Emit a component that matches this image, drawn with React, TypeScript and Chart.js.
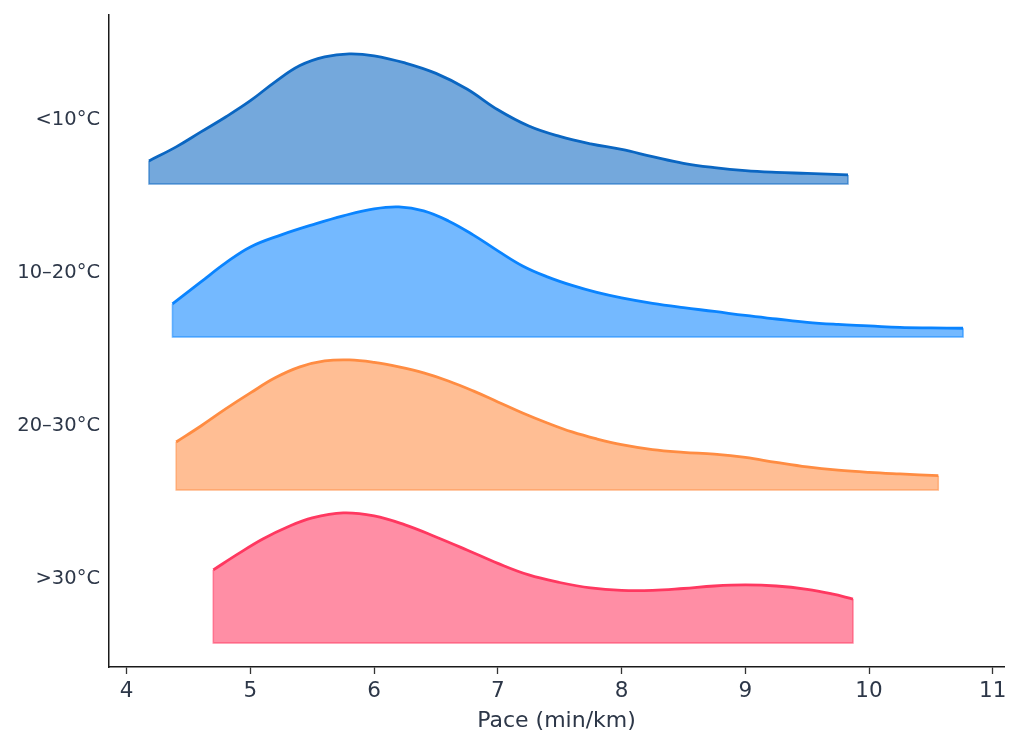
import React, { useEffect, useRef } from 'react';
import { Chart, registerables } from 'chart.js';

Chart.register(...registerables);

// temperature bands, top to bottom
const bands = ['<10°C', '10–20°C', '20–30°C', '>30°C'];
const lineColors = ['#0a66c2', '#0a84ff', '#ff8c42', '#ff3860'];

// pace (min/km) and density, each curve scaled to its own peak
const paceCold = [4.18, 4.4, 4.6, 4.8, 5.0, 5.2, 5.4, 5.6, 5.8, 6.0, 6.25, 6.5, 6.75, 7.0, 7.25, 7.5, 7.75, 8.0, 8.25, 8.5, 8.75, 9.0, 9.25, 9.5, 9.83];
const densCold = [0.177, 0.285, 0.4, 0.515, 0.64, 0.785, 0.91, 0.977, 1.0, 0.985, 0.93, 0.85, 0.73, 0.57, 0.445, 0.365, 0.308, 0.265, 0.21, 0.158, 0.125, 0.102, 0.089, 0.081, 0.069];

const paceMild = [4.37, 4.6, 4.8, 5.0, 5.25, 5.5, 5.75, 6.0, 6.2, 6.4, 6.6, 6.8, 7.0, 7.2, 7.4, 7.6, 7.8, 8.0, 8.25, 8.5, 8.75, 9.0, 9.25, 9.5, 9.75, 10.0, 10.25, 10.5, 10.76];
const densMild = [0.254, 0.423, 0.569, 0.692, 0.785, 0.862, 0.931, 0.985, 1.0, 0.969, 0.892, 0.785, 0.662, 0.546, 0.462, 0.396, 0.342, 0.3, 0.258, 0.225, 0.196, 0.165, 0.138, 0.112, 0.096, 0.085, 0.073, 0.069, 0.067];

const paceWarm = [4.4, 4.6, 4.8, 5.0, 5.2, 5.4, 5.6, 5.8, 6.0, 6.2, 6.4, 6.6, 6.8, 7.0, 7.2, 7.4, 7.6, 7.8, 8.0, 8.25, 8.5, 8.75, 9.0, 9.25, 9.5, 9.75, 10.0, 10.25, 10.56];
const densWarm = [0.369, 0.492, 0.623, 0.746, 0.862, 0.946, 0.992, 1.0, 0.981, 0.946, 0.9, 0.838, 0.762, 0.677, 0.592, 0.515, 0.446, 0.392, 0.348, 0.31, 0.289, 0.275, 0.25, 0.212, 0.177, 0.152, 0.135, 0.123, 0.11];

const paceHot = [4.7, 4.9, 5.1, 5.3, 5.5, 5.75, 6.0, 6.25, 6.5, 6.75, 7.0, 7.25, 7.5, 7.75, 8.0, 8.25, 8.5, 8.75, 9.0, 9.25, 9.5, 9.7, 9.87];
const densHot = [0.562, 0.685, 0.8, 0.892, 0.962, 1.0, 0.977, 0.908, 0.815, 0.715, 0.612, 0.523, 0.465, 0.423, 0.404, 0.404, 0.419, 0.438, 0.446, 0.438, 0.412, 0.377, 0.338];

const paces = [paceCold, paceMild, paceWarm, paceHot];
const densities = [densCold, densMild, densWarm, densHot];

const xTicks = [4, 5, 6, 7, 8, 9, 10, 11];

const RIDGE_HEIGHT = 0.85;
const BASE_OFFSET = 0.418;
const TEXT = '#2d3748';
const FONT = "'DejaVu Sans', sans-serif";

const rgba = (hex: string, a: number) => {
  const n = parseInt(hex.slice(1), 16);
  return `rgba(${n >> 16}, ${(n >> 8) & 255}, ${n & 255}, ${a})`;
};

const App: React.FC = () => {
  const canvasRef = useRef<HTMLCanvasElement>(null);

  useEffect(() => {
    const ctx = canvasRef.current?.getContext('2d');
    if (!ctx) return;

    const datasets: any[] = bands.flatMap((band, i) => {
      const row = bands.length - 1 - i;
      const base = row - BASE_OFFSET;
      const xs = paces[i];
      const pts = xs.map((x, k) => ({ x, y: base + densities[i][k] * RIDGE_HEIGHT }));
      const last = pts.length - 1;
      return [
        {
          label: band,
          data: pts,
          showLine: true,
          borderColor: lineColors[i],
          borderWidth: 2.8,
          pointRadius: 0,
          tension: 0.4,
          fill: { target: { value: base }, above: rgba(lineColors[i], 0.57), below: rgba(lineColors[i], 0.57) },
          order: 0,
        },
        {
          label: band + ' edge',
          data: [pts[0], { x: xs[0], y: base }, { x: xs[last], y: base }, pts[last]],
          showLine: true,
          borderColor: rgba(lineColors[i], 0.6),
          borderWidth: 1.5,
          pointRadius: 0,
          tension: 0,
          fill: false,
          order: 1,
        },
      ];
    });

    const chart = new Chart(ctx, {
      type: 'scatter',
      data: { datasets },
      options: {
        animation: false,
        responsive: true,
        maintainAspectRatio: false,
        layout: { padding: { top: 15, right: 19, left: 0, bottom: 0 } },
        plugins: {
          legend: { display: false },
          tooltip: { enabled: false },
        },
        scales: {
          x: {
            type: 'linear',
            min: 3.857,
            max: 11.091,
            afterBuildTicks: (scale: any) => {
              scale.ticks = xTicks.map((v) => ({ value: v }));
            },
            afterFit: (scale: any) => {
              scale.height = 80;
              scale.paddingLeft = 0;
              scale.paddingRight = 0;
            },
            grid: { display: true, drawOnChartArea: false, drawTicks: true, tickLength: 7, tickColor: '#333333', tickWidth: 1.3 },
            border: { display: true, color: '#1a1a1a', width: 1.5 },
            ticks: { color: TEXT, font: { family: FONT, size: 21.5 }, padding: 5, maxRotation: 0 },
            title: {
              display: true,
              text: 'Pace (min/km)',
              color: TEXT,
              font: { family: FONT, size: 22 },
              padding: { top: 13, bottom: 13 },
            },
          },
          y: {
            type: 'linear',
            min: -0.575,
            max: 3.686,
            afterBuildTicks: (scale: any) => {
              scale.ticks = bands.map((_, i) => ({ value: i }));
            },
            afterFit: (scale: any) => {
              scale.width = 109;
              scale.paddingTop = 0;
              scale.paddingBottom = 0;
            },
            grid: { display: false, drawTicks: false },
            border: { display: true, color: '#1a1a1a', width: 1.5 },
            ticks: {
              color: TEXT,
              font: { family: FONT, size: 19.5 },
              padding: 9,
              callback: (v: any) => bands[bands.length - 1 - Number(v)],
            },
          },
        },
      },
    });

    return () => {
      chart.destroy();
    };
  }, []);

  return (
    <div style={{ position: 'fixed', left: 0, top: 0, width: 1023, height: 747, background: '#ffffff' }}>
      <canvas ref={canvasRef} />
    </div>
  );
};

export default App;
